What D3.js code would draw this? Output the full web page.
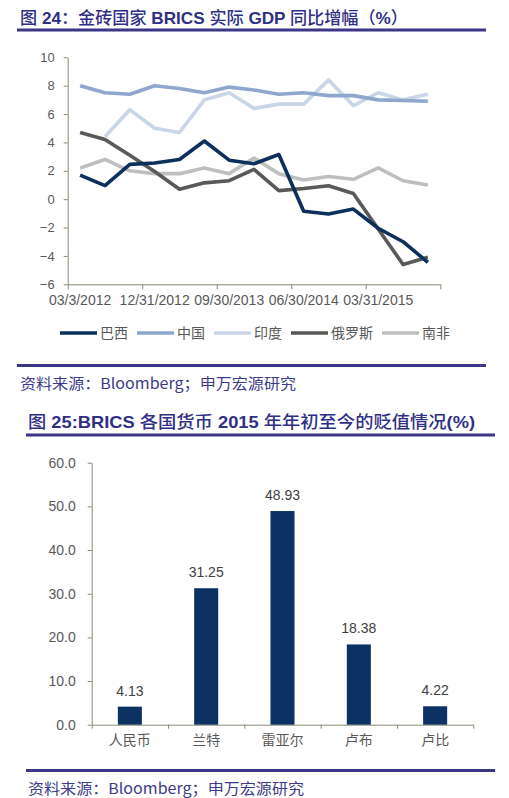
<!DOCTYPE html>
<html>
<head>
<meta charset="utf-8">
<script src="https://cdn.jsdelivr.net/npm/d3@7"></script>
<style>
  body { margin: 0; background: #fff; }
  svg { display: block; }
  .axis path, .axis line { stroke: #8a8a76; }
  .axis text { fill: #595959; font-family: "Liberation Sans", "Noto Sans CJK SC", sans-serif; }
</style>
</head>
<body>
<div id="chart"></div>
<script>
// quarterly GDP (% yoy), chart 1
var quarters = ["03/3/2012","06/30/2012","09/30/2012","12/31/2012","03/31/2013","06/30/2013",
  "09/30/2013","12/31/2013","03/31/2014","06/30/2014","09/30/2014","12/31/2014",
  "03/31/2015","06/30/2015","09/30/2015"];
var countries = ["巴西","中国","印度","俄罗斯","南非"];
var brazil  = [1.7, 0.95, 2.45, 2.55, 2.8, 4.1, 2.75, 2.5, 3.15, -0.85, -1.05, -0.7, -2.05, -3.0, -4.45];
var china   = [8.0, 7.5, 7.4, 8.0, 7.8, 7.5, 7.9, 7.7, 7.4, 7.5, 7.3, 7.3, 7.0, 6.95, 6.9];
var india   = [null, 4.4, 6.3, 5.0, 4.7, 7.0, 7.5, 6.4, 6.7, 6.7, 8.4, 6.6, 7.5, 7.0, 7.4];
var russia  = [4.7, 4.2, 3.1, 1.95, 0.7, 1.15, 1.3, 2.1, 0.6, 0.75, 0.95, 0.4, -2.1, -4.6, -4.1];
var safrica = [2.2, 2.8, 2.0, 1.8, 1.8, 2.2, 1.8, 2.9, 1.8, 1.35, 1.6, 1.4, 2.2, 1.3, 1.0];
var gdpTicks = [-6, -4, -2, 0, 2, 4, 6, 8, 10];

// currency depreciation since start of 2015 (%), chart 2
var currencies = ["人民币","兰特","雷亚尔","卢布","卢比"];
var depreciation = [4.13, 31.25, 48.93, 18.38, 4.22];
var fxTicks = [0, 10, 20, 30, 40, 50, 60];

var seriesList = [brazil, china, india, russia, safrica];
var colors = ["#0d2f5c", "#8fa6cf", "#c8d6e8", "#595959", "#bfbfbf"];

var W = 509, H = 798;
var titleColor = "#2f2f86", ruleColor = "#3b3786";

var svg = d3.select("#chart").append("svg")
    .attr("width", W).attr("height", H);

// ---------- headings / rules / sources ----------
function heading(text, x, y, len){
  var t = svg.append("text")
    .attr("x", x).attr("y", y)
    .attr("font-family", "'Liberation Sans', 'Noto Sans CJK SC', sans-serif")
    .attr("font-size", "17px")
    .attr("fill", titleColor)
    .attr("textLength", len).attr("lengthAdjust", "spacingAndGlyphs");
  // latin & digits bold, chinese a bit lighter like the original
  var parts = text.match(/[\u3000-\u9fff\uff00-\uffef]+|[^\u3000-\u9fff\uff00-\uffef]+/g);
  parts.forEach(function(p){
    var cjk = /[\u3000-\u9fff\uff00-\uffef]/.test(p);
    t.append("tspan")
     .attr("font-weight", cjk ? "500" : "bold")
     .text(p);
  });
}
function rule(x1, x2, y){
  svg.append("rect").attr("x", x1).attr("y", y - 1.5)
    .attr("width", x2 - x1).attr("height", 3).attr("fill", ruleColor);
}
function source(x, y, len){
  svg.append("text")
    .attr("x", x).attr("y", y)
    .attr("font-family", "'Noto Sans CJK SC', sans-serif")
    .attr("font-size", "15px")
    .attr("fill", "#3d3b8a")
    .attr("textLength", len).attr("lengthAdjust", "spacingAndGlyphs")
    .text("资料来源：Bloomberg；申万宏源研究");
}

heading("图 24：金砖国家 BRICS 实际 GDP 同比增幅（%）", 20, 24, 388);
rule(17, 486, 30);
rule(17, 486, 365.5);
source(20, 389, 276);

heading("图 25:BRICS 各国货币 2015 年年初至今的贬值情况(%)", 28, 428, 447);
rule(26, 495, 435);
rule(26, 495, 770.5);
source(28, 794, 276);

// ---------- chart 1: GDP lines ----------
var x1 = d3.scaleBand().domain(quarters).range([67.7, 440.3]);
var y1 = d3.scaleLinear().domain([-6, 10]).range([284.3, 57.3]);
var idx = d3.scaleLinear().domain([0, quarters.length]).range(x1.range());

svg.append("g").attr("class", "axis")
   .attr("transform", "translate(" + x1.range()[0] + ",0)")
   .call(d3.axisLeft(y1).tickValues(gdpTicks).tickSize(4).tickSizeOuter(0).tickPadding(9))
   .selectAll("text").attr("font-size", "13px");

// tick marks on category boundaries every 3 quarters
svg.append("g").attr("class", "axis")
   .attr("transform", "translate(0," + y1(-6) + ")")
   .call(d3.axisBottom(idx).tickValues([0, 3, 6, 9, 12, 15]).tickSize(5).tickSizeOuter(0).tickFormat(""));

// labels centred on first quarter of each group
var xLab = svg.append("g").attr("class", "axis")
   .attr("transform", "translate(0," + y1(-6) + ")")
   .call(d3.axisBottom(x1).tickValues(quarters.filter(function(d, i){ return i % 3 == 0; }))
         .tickSize(0).tickPadding(11));
xLab.select(".domain").remove();
xLab.selectAll("text").attr("font-size", "14px");

var line = d3.line()
    .defined(function(d){ return d != null; })
    .x(function(d, i){ return x1(quarters[i]) + x1.bandwidth() / 2; })
    .y(function(d){ return y1(d); });

// draw South Africa first so darker lines sit on top
[4, 2, 1, 3, 0].forEach(function(k){
  svg.append("path")
     .attr("d", line(seriesList[k]))
     .attr("fill", "none")
     .attr("stroke", colors[k])
     .attr("stroke-width", 3.6)
     .attr("stroke-linejoin", "round");
});

// legend
var lx = 60, ly = 333;
countries.forEach(function(c, i){
  svg.append("line")
     .attr("x1", lx).attr("x2", lx + 37).attr("y1", ly).attr("y2", ly)
     .attr("stroke", colors[i]).attr("stroke-width", 3.6);
  svg.append("text")
     .attr("x", lx + 40).attr("y", ly + 5)
     .attr("font-family", "'Noto Sans CJK SC', sans-serif")
     .attr("font-size", "14px").attr("fill", "#595959")
     .text(c);
  lx += 37 + 3 + c.length * 14 + 9;
});

// ---------- chart 2: depreciation bars ----------
var x2 = d3.scaleBand().domain(currencies).range([91.7, 473.3]);
var y2 = d3.scaleLinear().domain([0, 60]).range([724.7, 462.7]);
var idx2 = d3.scaleLinear().domain([0, currencies.length]).range(x2.range());
var barW = x2.bandwidth() * 0.315;

svg.append("g").attr("class", "axis")
   .attr("transform", "translate(" + x2.range()[0] + ",0)")
   .call(d3.axisLeft(y2).tickValues(fxTicks).tickFormat(d3.format(".1f")).tickSize(4).tickSizeOuter(0).tickPadding(12))
   .selectAll("text").attr("font-size", "14px");

svg.append("g").attr("class", "axis")
   .attr("transform", "translate(0," + y2(0) + ")")
   .call(d3.axisBottom(idx2).tickValues(d3.range(currencies.length + 1)).tickSize(4).tickSizeOuter(0).tickFormat(""));

var cLab = svg.append("g").attr("class", "axis")
   .attr("transform", "translate(0," + y2(0) + ")")
   .call(d3.axisBottom(x2).tickSize(0).tickPadding(10));
cLab.select(".domain").remove();
cLab.selectAll("text").attr("font-size", "14px").attr("font-family", "'Noto Sans CJK SC', sans-serif");

svg.selectAll("rect.bar")
   .data(depreciation)
   .enter()
   .append("rect")
   .attr("class", "bar")
   .attr("x", function(d, i){ return x2(currencies[i]) + x2.bandwidth() / 2 - barW / 2; })
   .attr("y", function(d){ return y2(d); })
   .attr("width", barW)
   .attr("height", function(d){ return y2(0) - y2(d); })
   .attr("fill", "#0c3163");

svg.selectAll("text.val")
   .data(depreciation)
   .enter()
   .append("text")
   .attr("class", "val")
   .attr("x", function(d, i){ return x2(currencies[i]) + x2.bandwidth() / 2; })
   .attr("y", function(d){ return y2(d) - 11; })
   .attr("text-anchor", "middle")
   .attr("font-family", "'Liberation Sans', sans-serif")
   .attr("font-size", "14px")
   .attr("fill", "#404040")
   .text(function(d){ return d.toFixed(2); });
</script>
</body>
</html>
